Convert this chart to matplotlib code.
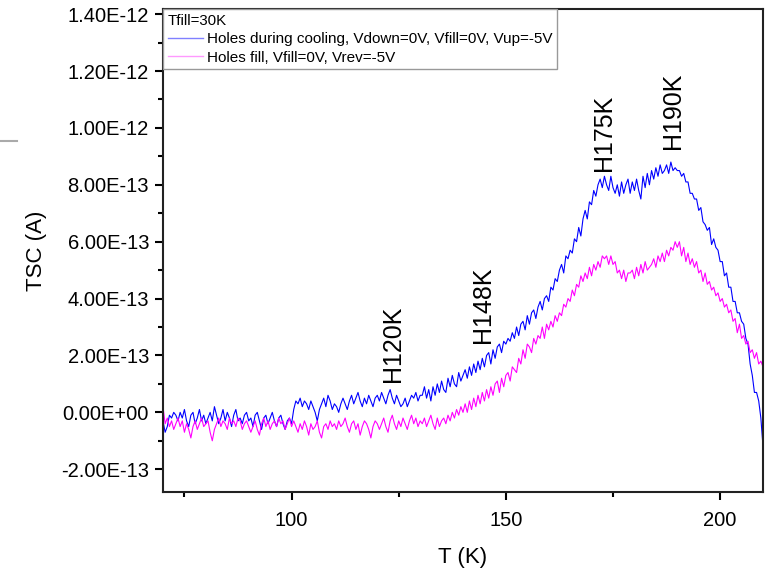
import numpy as np
import matplotlib
matplotlib.use("Agg")
import matplotlib.pyplot as plt
from matplotlib.lines import Line2D
from matplotlib.ticker import FixedLocator, MultipleLocator, FuncFormatter

plt.rcParams['font.family'] = ['Liberation Sans', 'DejaVu Sans']

# TSC in units of 1e-13 A, sampled every 0.5 K from 70 K to 210 K
blue_e13 = [
    -0.3, -0.7, -0.5, -0.1, -0.2, 0.0, -0.1, -0.3, 0.0, -0.2, 0.1, -0.3, -0.5, -0.1, 0.0, -0.4, -0.2, 0.1, -0.3, -0.1, -0.4,
    -0.2, 0.0, -0.3, 0.2, -0.1, -0.4, -0.2, 0.1, -0.3, 0.0, -0.2, -0.5, -0.1, 0.1, -0.3, -0.2, -0.4, -0.1, 0.0, -0.3,
    -0.2, -0.5, -0.1, 0.0, -0.3, -0.6, -0.2, -0.1, -0.4, -0.2, 0.0, -0.3, -0.5, -0.2, -0.1, -0.4, -0.6, -0.3, -0.2, -0.4,
    0.1, 0.4, 0.3, 0.5, 0.2, 0.4, 0.3, 0.1, 0.4, 0.2, 0.0, -0.3, 0.1, 0.3, 0.5, 0.2, 0.6, 0.4, 0.1, 0.3,
    0.2, 0.0, 0.3, 0.5, 0.3, 0.1, 0.4, 0.6, 0.3, 0.5, 0.7, 0.4, 0.2, 0.5, 0.3, 0.6, 0.4, 0.2, 0.5, 0.6,
    0.4, 0.7, 0.5, 0.3, 0.6, 0.8, 0.5, 0.3, 0.6, 0.4, 0.2, 0.3, 0.5, 0.2, 0.4, 0.6, 0.5, 0.7, 0.4, 0.6,
    0.6, 0.9, 0.5, 0.8, 0.4, 0.9, 0.6, 1.0, 0.7, 1.1, 0.8, 0.7, 1.2, 0.9, 1.3, 1.0, 0.9, 1.4, 1.1, 1.3,
    1.5, 1.2, 1.6, 1.3, 1.7, 1.4, 1.8, 1.5, 1.9, 1.6, 2.0, 2.1, 1.7, 2.2, 1.9, 2.3, 2.4, 2.1, 2.5, 2.4,
    2.6, 2.5, 2.8, 2.6, 3.0, 2.7, 3.1, 3.2, 2.9, 3.4, 3.1, 3.5, 3.6, 3.3, 3.7, 3.9, 3.6, 4.0, 4.1, 3.9,
    4.4, 4.3, 4.7, 4.6, 5.0, 5.2, 4.9, 5.5, 5.4, 5.7, 5.6, 6.1, 6.0, 6.5, 6.2, 6.8, 7.1, 6.8, 7.4, 7.3,
    7.8, 7.6, 8.0, 8.2, 7.9, 8.3, 8.0, 7.8, 8.3, 7.9, 7.7, 8.0, 7.6, 8.1, 7.7, 8.0, 8.2, 7.7, 8.1, 7.8,
    8.2, 7.8, 7.5, 8.3, 7.9, 8.4, 8.0, 8.5, 8.2, 8.6, 8.3, 8.7, 8.4, 8.5, 8.7, 8.4, 8.8, 8.5, 8.6, 8.5,
    8.5, 8.3, 8.4, 8.1, 8.1, 7.7, 7.7, 7.5, 7.5, 7.1, 7.2, 6.7, 6.6, 6.4, 6.5, 5.9, 6.1, 5.8, 5.7, 5.3,
    5.3, 4.8, 4.9, 4.4, 4.4, 3.9, 3.9, 3.5, 3.5, 3.2, 3.1, 2.6, 2.4, 1.7, 1.3, 0.7, 0.7, 0.4, -0.2, -1.2,
]

pink_e13 = [
    0.2, -0.4, -0.2, -0.5, -0.3, -0.6, -0.4, -0.2, -0.5, -0.3, -0.7, -0.4, -0.6, -0.9, -0.5, -0.3, -0.6, -0.4, -0.2, -0.5, -0.4,
    -0.3, -0.7, -1.0, -0.6, -0.4, -0.2, -0.5, -0.3, -0.4, -0.6, -0.2, -0.4, -0.3, -0.5, -0.2, -0.3, -0.6, -0.4, -0.3, -0.5,
    -0.7, -0.5, -0.3, -0.6, -0.8, -0.4, -0.2, -0.5, -0.3, -0.6, -0.4, -0.3, -0.5, -0.2, -0.4, -0.3, -0.6, -0.4, -0.2, -0.5,
    -0.3, -0.5, -0.7, -0.4, -0.6, -0.3, -0.5, -0.8, -0.4, -0.6, -0.5, -0.3, -0.7, -0.9, -0.5, -0.4, -0.6, -0.3, -0.5, -0.4,
    -0.6, -0.3, -0.5, -0.4, -0.2, -0.5, -0.7, -0.4, -0.3, -0.6, -0.4, -0.8, -0.5, -0.3, -0.4, -0.6, -0.9, -0.5, -0.3, -0.4,
    -0.6, -0.4, -0.2, -0.5, -0.7, -0.3, -0.1, -0.4, -0.6, -0.3, -0.5, -0.2, -0.4, -0.6, -0.3, -0.1, -0.4, -0.2, -0.5, -0.3,
    -0.4, -0.2, -0.5, -0.3, -0.1, -0.4, -0.6, -0.2, -0.5, -0.3, -0.2, -0.4, -0.1, -0.3, 0.0, -0.2, 0.1, -0.1, 0.2, 0.0,
    0.3, 0.0, 0.4, 0.1, 0.5, 0.2, 0.6, 0.3, 0.7, 0.4, 0.8, 0.5, 0.9, 0.6, 1.0, 1.1, 0.7, 1.2, 0.9, 1.3,
    1.4, 1.1, 1.6, 1.5, 1.4, 1.9, 1.7, 2.2, 1.9, 2.4, 2.3, 2.1, 2.6, 2.4, 2.7, 2.6, 3.0, 2.6, 3.1, 2.9,
    3.2, 3.0, 3.4, 3.2, 3.5, 3.4, 3.8, 3.7, 4.0, 3.9, 4.3, 4.1, 4.5, 4.4, 4.8, 4.6, 4.9, 4.7, 5.1, 4.8,
    5.2, 5.0, 5.3, 5.1, 5.5, 5.4, 5.5, 5.2, 5.5, 5.2, 5.3, 4.9, 5.0, 4.7, 5.0, 4.6, 4.9, 4.9, 5.0, 4.7,
    5.1, 4.8, 5.2, 4.9, 5.3, 5.0, 5.1, 5.2, 5.4, 5.1, 5.5, 5.3, 5.6, 5.3, 5.7, 5.5, 5.8, 5.7, 6.0, 5.8,
    6.0, 5.5, 5.8, 5.3, 5.6, 5.2, 5.4, 5.1, 5.3, 4.9, 5.0, 4.6, 4.9, 4.5, 4.6, 4.3, 4.4, 4.1, 4.2, 3.9,
    4.0, 3.7, 3.8, 3.5, 3.6, 3.2, 3.3, 2.8, 3.1, 2.6, 2.7, 2.4, 2.5, 2.1, 2.2, 1.9, 2.1, 1.7, 1.8, 1.6,
]

T_start, T_end = 70.0, 210.0
series_labels = ["Holes during cooling, Vdown=0V, Vfill=0V, Vup=-5V",
                 "Holes fill, Vfill=0V, Vrev=-5V"]
legend_title = "Tfill=30K"
peak_labels = ["H120K", "H148K", "H175K", "H190K"]
peak_T = [123.6, 144.6, 172.8, 189.1]
peak_y = [1.07e-13, 2.44e-13, 8.5e-13, 9.25e-13]
x_ticks = [100, 150, 200]
y_ticks = [-2e-13, 0.0, 2e-13, 4e-13, 6e-13, 8e-13, 1.0e-12, 1.2e-12, 1.4e-12]

T_blue = np.linspace(T_start, T_end, len(blue_e13))
T_pink = np.linspace(T_start, T_end, len(pink_e13))
blue = np.array(blue_e13) * 1e-13
pink = np.array(pink_e13) * 1e-13

fig = plt.figure(figsize=(7.66, 5.70), dpi=100)
ax = fig.add_axes([163/766, 1 - 492/570, 600/766, 483/570])

ax.plot(T_blue, blue, color='#0000ff', lw=0.8, label=series_labels[0])
ax.plot(T_pink, pink, color='#ff00ff', lw=0.8, label=series_labels[1])

ax.set_xlim(T_start, T_end)
ax.set_ylim(-2.8e-13, 1.418e-12)

ax.xaxis.set_major_locator(FixedLocator(x_ticks))
ax.xaxis.set_minor_locator(MultipleLocator(25))
ax.yaxis.set_major_locator(FixedLocator(y_ticks))
ax.yaxis.set_minor_locator(FixedLocator([v + 1e-13 for v in y_ticks[:-1]]))
ax.yaxis.set_major_formatter(FuncFormatter(lambda v, p: "{:.2E}".format(0.0 if abs(v) < 1e-20 else v)))

ax.tick_params(axis='both', which='major', direction='out', length=6, width=1.5,
               labelsize=14.5, top=False, right=False)
ax.tick_params(axis='x', which='major', pad=8)
ax.tick_params(axis='y', which='major', pad=4)
ax.tick_params(axis='both', which='minor', direction='out', length=3.5, width=1.5,
               top=False, right=False)
for s in ax.spines.values():
    s.set_linewidth(1.5)
    s.set_color('#222222')

ax.set_xlabel("T (K)", fontsize=16, labelpad=12)
ax.set_ylabel("TSC (A)", fontsize=16, labelpad=10)

for lab, tx, ty in zip(peak_labels, peak_T, peak_y):
    ax.text(tx, ty, lab, rotation=90, ha='center', va='bottom', fontsize=18)

leg = ax.legend(loc='upper left', bbox_to_anchor=(0, 1), borderaxespad=0,
                title=legend_title, alignment='left', fontsize=11, title_fontsize=10.8,
                fancybox=False, edgecolor='#999999', framealpha=1,
                handlelength=2.3, handletextpad=0.27, borderpad=0.3, labelspacing=0.3)
leg.get_frame().set_linewidth(1.0)
for h, c in zip(leg.legend_handles, ['#8080ff', '#ff99ff']):
    h.set_color(c)
    h.set_linewidth(1.0)

fig.add_artist(Line2D([0, 17/766], [1 - 141/570, 1 - 141/570], color='#aaaaaa', lw=1.5))

fig.savefig("out.png", dpi=100)
